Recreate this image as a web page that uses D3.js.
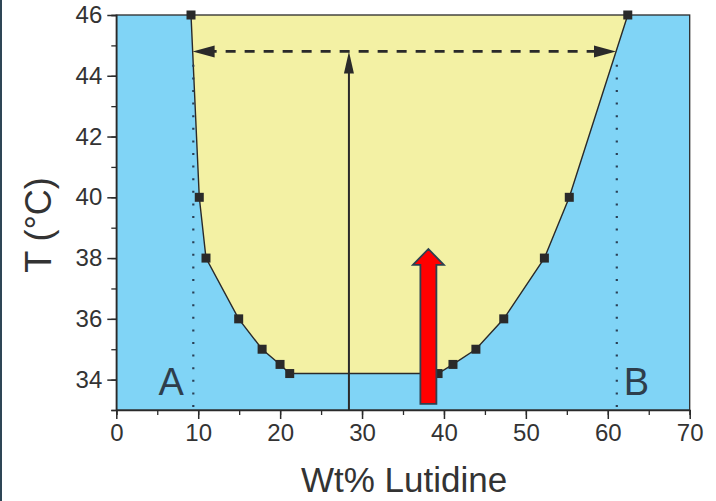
<!DOCTYPE html>
<html><head><meta charset="utf-8">
<script src="https://cdn.jsdelivr.net/npm/d3@7"></script>
<style>body{margin:0;background:#fff}svg{display:block}text{font-family:"Liberation Sans",Arial,sans-serif;fill:#333}</style>
</head><body><svg id="c" width="716" height="501"></svg>
<script>
// data
const leftBranchX = [9.12, 10.13, 10.95, 14.94, 17.8, 19.99, 21.17];
const leftBranchT = [46, 40, 38, 36, 35, 34.5, 34.2];
const rightBranchX = [39.28, 41.1, 43.9, 47.3, 52.26, 55.3, 62.44];
const rightBranchT = [34.2, 34.5, 35, 36, 38, 40, 46];
const xTicks = [0, 10, 20, 30, 40, 50, 60, 70];
const yTicks = [34, 36, 38, 40, 42, 44, 46];
const tieLineT = 44.8;
const tieLineX = [9.32, 61.0];
const verticalArrowX = 28.4;
const dottedX = [9.4, 61.1];
const pointLabels = ["A", "B"];
const pointLabelX = [6.7, 63.5];
const pointLabelT = 33.5;
const redArrowX = 38.1, redArrowT0 = 33.2, redArrowT1 = 38.3;

const svg = d3.select("#c");
const m = {l:116.3, r:689.7, t:15, b:410};
const x = d3.scaleLinear().domain([0,70]).range([m.l, m.r]);
const y = d3.scaleLinear().domain([33,46]).range([m.b, m.t]);

svg.append("rect").attr("x",0).attr("y",0).attr("width",2).attr("height",501).attr("fill","#2e4656");

// blue background
svg.append("rect").attr("x",m.l).attr("y",m.t).attr("width",m.r-m.l).attr("height",m.b-m.t).attr("fill","#80d4f6");

const left = leftBranchX.map((v,i)=>[v,leftBranchT[i]]);
const right = rightBranchX.map((v,i)=>[v,rightBranchT[i]]);
const poly = left.concat(right);
const line = d3.line().x(d=>x(d[0])).y(d=>y(d[1]));
svg.append("path").attr("d", line(poly)+"Z").attr("fill","#f3f1a4");
svg.append("path").attr("d", line(poly)).attr("fill","none").attr("stroke","#2a2a2a").attr("stroke-width",1.4);

// dotted lines
dottedX.forEach(v=>{
  svg.append("line").attr("x1",x(v)).attr("x2",x(v)).attr("y1",y(33)-3).attr("y2",y(tieLineT)+4)
    .attr("stroke","#2a3f55").attr("stroke-width",2.2).attr("stroke-dasharray","2,10.6");
});

// tie line dashed arrow
svg.append("line").attr("x1",x(tieLineX[0])+14).attr("x2",x(tieLineX[1])-14).attr("y1",y(tieLineT)).attr("y2",y(tieLineT))
  .attr("stroke","#2a2a2a").attr("stroke-width",2.8).attr("stroke-dasharray","10,9");
function head(xt, yt, dir){
  const L=22, W=6;
  svg.append("path").attr("d",`M${xt},${yt} L${xt-dir*L},${yt-W} L${xt-dir*L},${yt+W} Z`).attr("fill","#2a2a2a");
}
head(x(tieLineX[0]), y(tieLineT), -1);
head(x(tieLineX[1]), y(tieLineT), 1);

// vertical arrow
svg.append("line").attr("x1",x(verticalArrowX)).attr("x2",x(verticalArrowX)).attr("y1",y(33)).attr("y2",y(tieLineT)+10)
  .attr("stroke","#2a2a2a").attr("stroke-width",2);
(function(){
  const xt=x(verticalArrowX), yt=y(tieLineT);
  svg.append("path").attr("d",`M${xt},${yt} L${xt-5},${yt+22} L${xt+5},${yt+22} Z`).attr("fill","#2a2a2a");
})();

// markers
svg.selectAll("rect.pt").data(poly).join("rect").attr("class","pt")
  .attr("x",d=>x(d[0])-4.5).attr("y",d=>y(d[1])-4.5).attr("width",9).attr("height",9).attr("fill","#2a2a2a");

// red arrow
(function(){
  const cx=x(redArrowX), yb=y(redArrowT0), yt=y(redArrowT1);
  const sw=8, hw=15.5, hh=16;
  const d=`M${cx-sw},${yb} L${cx-sw},${yt+hh} L${cx-hw},${yt+hh} L${cx},${yt} L${cx+hw},${yt+hh} L${cx+sw},${yt+hh} L${cx+sw},${yb} Z`;
  svg.append("path").attr("d",d).attr("fill","#ff0000").attr("stroke","#2e4050").attr("stroke-width",1.8).attr("stroke-linejoin","miter");
})();

// labels A, B
pointLabels.forEach((t,i)=>{
  svg.append("text").attr("x",x(pointLabelX[i])).attr("y",y(pointLabelT)).attr("text-anchor","middle")
    .attr("font-size",38).style("fill","#2e3e4c").text(t);
});

// frame
svg.append("rect").attr("x",m.l).attr("y",m.t).attr("width",m.r-m.l).attr("height",m.b-m.t).attr("fill","none").attr("stroke","#2a2a2a").attr("stroke-width",1.3);

// axes
const xa = svg.append("g").attr("transform",`translate(0,${m.b})`);
xa.call(d3.axisBottom(x).tickValues(d3.range(0,71,5)).tickSize(5).tickFormat(""));
xa.select(".domain").attr("stroke","#2a2a2a").attr("stroke-width",1.5);
xa.selectAll("line").attr("stroke","#2a2a2a").attr("stroke-width",1.3);
const xa2 = svg.append("g").attr("transform",`translate(0,${m.b})`).call(d3.axisBottom(x).tickValues(xTicks).tickSize(9).tickPadding(5));
xa2.select(".domain").remove();
xa2.selectAll("line").attr("stroke","#2a2a2a").attr("stroke-width",1.5);
xa2.selectAll("text").attr("font-size",24).attr("font-family","Liberation Sans, Arial, sans-serif").style("fill","#333");

const ya = svg.append("g").attr("transform",`translate(${m.l},0)`);
ya.call(d3.axisLeft(y).tickValues(d3.range(33,46.1,1)).tickSize(5).tickFormat(""));
ya.select(".domain").attr("stroke","#2a2a2a").attr("stroke-width",1.5);
ya.selectAll("line").attr("stroke","#2a2a2a").attr("stroke-width",1.3);
const ya2 = svg.append("g").attr("transform",`translate(${m.l},0)`).call(d3.axisLeft(y).tickValues(yTicks).tickSize(9).tickPadding(5));
ya2.select(".domain").remove();
ya2.selectAll("line").attr("stroke","#2a2a2a").attr("stroke-width",1.5);
ya2.selectAll("text").attr("font-size",24).attr("font-family","Liberation Sans, Arial, sans-serif").style("fill","#333");

// axis titles
svg.append("text").attr("x",404).attr("y",492).attr("text-anchor","middle").attr("font-size",35).style("fill","#333").text("Wt% Lutidine");
svg.append("text").attr("transform","translate(51,225) rotate(-90)").attr("text-anchor","middle").attr("font-size",36).style("fill","#333").text("T (°C)");
</script></body></html>
